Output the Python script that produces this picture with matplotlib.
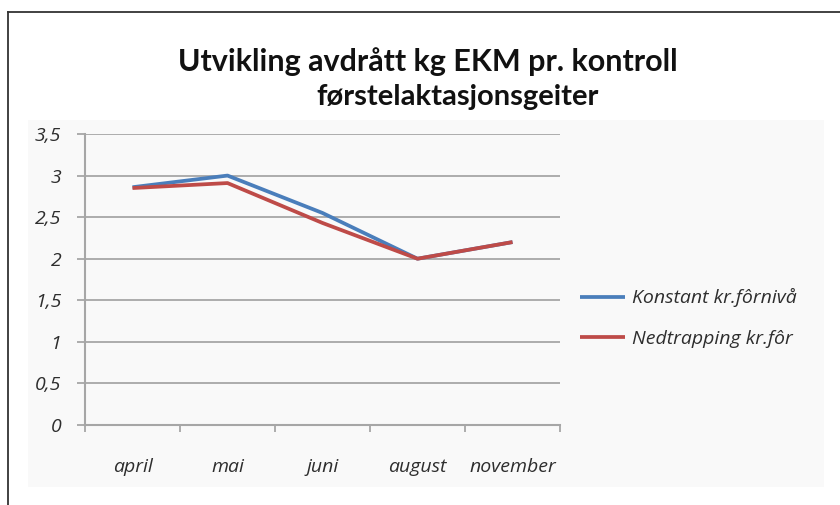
import numpy as np
import matplotlib.pyplot as plt
from matplotlib.patches import Rectangle
from matplotlib.lines import Line2D

# kg EKM per kontroll
months = ['april', 'mai', 'juni', 'august', 'november']
konstant = [2.86, 3.0, 2.55, 2.0, 2.2]
nedtrapping = [2.85, 2.91, 2.43, 2.0, 2.2]
labels = ['Konstant kr.fôrnivå', 'Nedtrapping kr.fôr']
yticks = [0, 0.5, 1, 1.5, 2, 2.5, 3, 3.5]
ytick_labels = ['0', '0,5', '1', '1,5', '2', '2,5', '3', '3,5']

blue = '#4a7ebb'
red = '#be4b48'
grid_c = '#a6a6a6'
txt_c = '#2e2e2e'
W, H = 840, 505

fig = plt.figure(figsize=(8.4, 5.05), dpi=100)
fig.patch.set_facecolor('white')

# light panel behind the chart and the frame lines
panel = Rectangle((28 / W, 1 - 487 / H), 796 / W, 367 / H,
                  transform=fig.transFigure, facecolor='#f9f9f9',
                  edgecolor='none', zorder=-5)
fig.add_artist(panel)
fig.add_artist(Line2D([8 / W, 8 / W], [0, 1 - 12 / H], color='#333333', lw=1.3))
fig.add_artist(Line2D([8 / W, 1], [1 - 12 / H, 1 - 12 / H], color='#333333', lw=1.3))

ax = fig.add_axes([85 / W, 1 - 425 / H, 475 / W, 291 / H])
ax.set_facecolor('none')
x = np.arange(len(months))
ax.plot(x, konstant, color=blue, lw=2.7, label=labels[0], solid_capstyle='butt')
ax.plot(x, nedtrapping, color=red, lw=2.7, label=labels[1], solid_capstyle='butt')

ax.set_xlim(-0.5, len(months) - 0.5)
ax.set_ylim(0, 3.5)
ax.set_yticks(yticks)
ax.set_yticklabels(ytick_labels)
ax.set_xticks(x)
ax.set_xticklabels(months)
ax.set_xticks(np.arange(len(months) + 1) - 0.5, minor=True)
ax.yaxis.grid(True, color=grid_c, lw=1.3)
ax.set_axisbelow(True)

for s in ['top', 'right']:
    ax.spines[s].set_visible(False)
for s in ['left', 'bottom']:
    ax.spines[s].set_color(grid_c)
    ax.spines[s].set_linewidth(1.5)

tick_font = dict(family='Open Sans', style='italic', size=14)
ax.tick_params(axis='y', length=6, width=1.3, color=grid_c, pad=11, labelcolor=txt_c)
ax.tick_params(axis='x', which='major', length=0, pad=24, labelcolor=txt_c)
ax.tick_params(axis='x', which='minor', length=5, width=1.3, color=grid_c)
for t in ax.get_xticklabels() + ax.get_yticklabels():
    t.set_fontproperties(tick_font)

leg = ax.legend(loc='center left', frameon=False, handlelength=2.3, handletextpad=0.4,
                labelspacing=1.15, borderpad=0, borderaxespad=0,
                prop=dict(family='Open Sans', style='italic', size=14))
leg.set_bbox_to_anchor((580 / W, 1 - 318 / H), transform=fig.transFigure)
for t in leg.get_texts():
    t.set_color(txt_c)

fig.text(428 / W, 1 - 62 / H, 'Utvikling avdrått kg EKM pr. kontroll',
         ha='center', va='center', family='Lato', weight='bold', size=22, color='#111111')
fig.text(458 / W, 1 - 97 / H, 'førstelaktasjonsgeiter',
         ha='center', va='center', family='Lato', weight='bold', size=21, color='#111111')

fig.savefig('out.png', dpi=100)
